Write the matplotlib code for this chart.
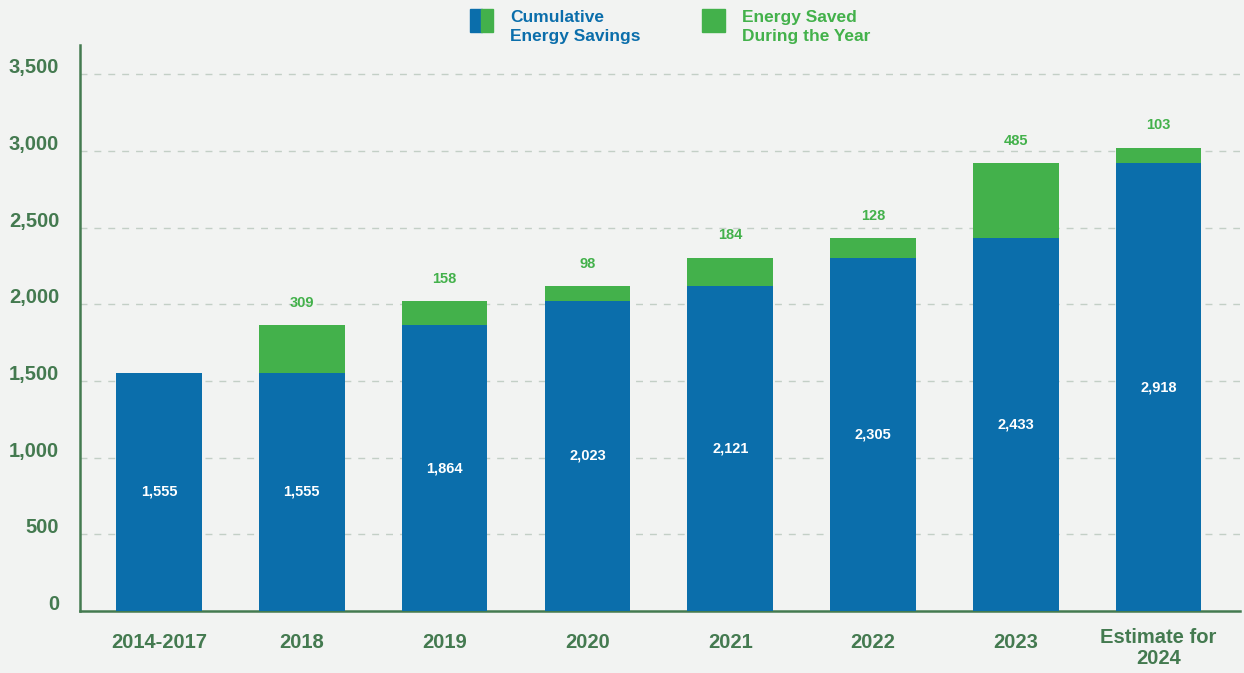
import matplotlib.pyplot as plt
import matplotlib.transforms as mtransforms
from matplotlib.patches import Rectangle

plt.rcParams['font.family'] = ['Liberation Sans', 'DejaVu Sans']
plt.rcParams['font.weight'] = 'bold'

# dados
anos = ['2014-2017', '2018', '2019', '2020', '2021', '2022', '2023', 'Estimate for\n2024']
acumulado = [1555, 1555, 1864, 2023, 2121, 2305, 2433, 2918]
economia_ano = [0, 309, 158, 98, 184, 128, 485, 103]

azul = '#0b6eab'
verde = '#43b14b'
verde_escuro = '#447a50'
fundo = '#f2f3f2'

fig = plt.figure(figsize=(12.44, 6.73), dpi=100, facecolor=fundo)
ax = fig.add_axes([0.0643, 0.0921, 0.9325, 0.8409])
ax.set_facecolor(fundo)

x = list(range(len(anos)))
ax.bar(x, acumulado, width=0.6, color=azul, zorder=3)
ax.bar(x, economia_ano, width=0.6, bottom=acumulado, color=verde, zorder=3)

for i in x:
    ax.text(i, acumulado[i] / 2, f'{acumulado[i]:,}', ha='center', va='center',
            color='white', fontsize=10.5, fontweight='bold', zorder=4)
    if economia_ano[i] > 0:
        ax.annotate(f'{economia_ano[i]:,}', (i, acumulado[i] + economia_ano[i]),
                    xytext=(0, 16), textcoords='offset points', ha='center', va='center',
                    color=verde, fontsize=10.5, fontweight='bold')

ax.set_xlim(-0.553, 7.57)
ax.set_ylim(0, 3690)
ax.set_yticks([0, 500, 1000, 1500, 2000, 2500, 3000, 3500])
ax.set_yticklabels([f'{v:,}' for v in ax.get_yticks()])
ax.set_xticks(x)
ax.set_xticklabels(anos)
ax.tick_params(axis='y', length=0, pad=15, labelsize=14.5, labelcolor=verde_escuro)
ax.tick_params(axis='x', length=0, pad=16, labelsize=14.5, labelcolor=verde_escuro)

# rotulos do eixo y ficam um pouco acima das linhas
desloca = mtransforms.ScaledTranslation(0, 6 / 72, fig.dpi_scale_trans)
for lbl in ax.get_yticklabels():
    lbl.set_transform(lbl.get_transform() + desloca)

# rotulo de duas linhas sobe um pouco
ultimo = ax.get_xticklabels()[-1]
ultimo.set_linespacing(1.15)
ultimo.set_transform(ultimo.get_transform() +
                     mtransforms.ScaledTranslation(0, 4 / 72, fig.dpi_scale_trans))

for v in [500, 1000, 1500, 2000, 2500, 3000, 3500]:
    ax.axhline(v, color='#c3cfc6', linestyle=(0, (5, 5)), linewidth=1, zorder=1)

for lado in ['top', 'right']:
    ax.spines[lado].set_visible(False)
for lado in ['left', 'bottom']:
    ax.spines[lado].set_color(verde_escuro)
    ax.spines[lado].set_linewidth(1.8)

# legenda manual
W, H = 1244, 673
def caixa(px, py, w, h, cor):
    fig.patches.append(Rectangle((px / W, 1 - (py + h) / H), w / W, h / H,
                                 transform=fig.transFigure, color=cor, zorder=5))

caixa(470, 9, 12, 23, azul)
caixa(481, 9, 12, 23, verde)
caixa(702, 9, 23, 23, verde)
fig.text(510 / W, 1 - 27 / H, 'Cumulative\nEnergy Savings', color=azul,
         fontsize=12.5, fontweight='bold', va='center', ha='left', linespacing=1.35)
fig.text(742 / W, 1 - 27 / H, 'Energy Saved\nDuring the Year', color=verde,
         fontsize=12.5, fontweight='bold', va='center', ha='left', linespacing=1.35)

plt.savefig('out.png', dpi=100, facecolor=fundo)
